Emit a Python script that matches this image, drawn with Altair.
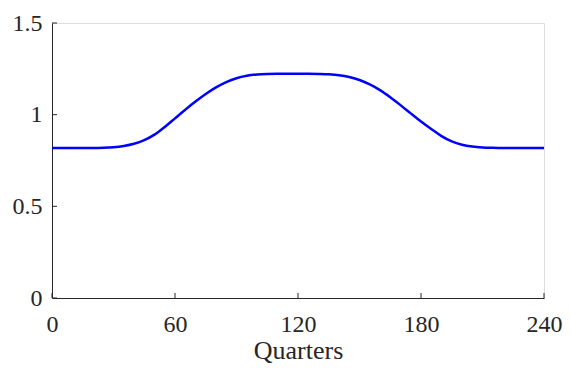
import altair as alt
import pandas as pd

quarters = list(range(0, 241, 5))
values = [0.818, 0.818, 0.818, 0.818, 0.818, 0.819, 0.822, 0.829, 0.841, 0.861,
          0.891, 0.933, 0.980, 1.027, 1.072, 1.113, 1.149, 1.178, 1.199, 1.212,
          1.219, 1.222, 1.223, 1.223, 1.223, 1.223, 1.222, 1.220, 1.215, 1.205,
          1.189, 1.165, 1.134, 1.095, 1.052, 1.007, 0.963, 0.922, 0.883, 0.854,
          0.836, 0.826, 0.821, 0.819, 0.818, 0.818, 0.818, 0.818, 0.818]
x_ticks = [0, 60, 120, 180, 240]
y_ticks = [0, 0.5, 1, 1.5]

FONT = "Liberation Serif"
AX = "#262626"
W, H = 492, 275

df = pd.DataFrame({"quarter": quarters, "value": values})
xt = pd.DataFrame({"quarter": x_ticks})
yt = pd.DataFrame({"value": y_ticks})

xscale = alt.Scale(domain=[0, 240], nice=False, zero=False)
yscale = alt.Scale(domain=[0, 1.5], nice=False)

line = alt.Chart(df).mark_line(color="#0000FF", strokeWidth=2.5, interpolate="monotone").encode(
    x=alt.X("quarter:Q", scale=xscale,
            axis=alt.Axis(values=x_ticks, title="Quarters", grid=False, ticks=False,
                          domainColor=AX, domainWidth=1, labelColor=AX,
                          labelFont=FONT, labelFontSize=24, labelPadding=14,
                          titleFont=FONT, titleFontSize=26, titleFontWeight="normal",
                          titleColor=AX, titlePadding=1, labelFlush=False)),
    y=alt.Y("value:Q", scale=yscale,
            axis=alt.Axis(values=y_ticks, title=None, grid=False, ticks=False, format="~g",
                          domainColor=AX, domainWidth=1, labelColor=AX,
                          labelFont=FONT, labelFontSize=24, labelPadding=10,
                          labelFlush=False)),
)

xticks = alt.Chart(xt).mark_rule(color=AX, strokeWidth=1).encode(
    x=alt.X("quarter:Q", scale=xscale),
    y=alt.value(H), y2=alt.value(H - 5),
)
yticks = alt.Chart(yt).mark_rule(color=AX, strokeWidth=1).encode(
    y=alt.Y("value:Q", scale=yscale),
    x=alt.value(0), x2=alt.value(5),
)

chart = alt.layer(line, xticks, yticks).properties(
    width=W, height=H,
    autosize=alt.AutoSizeParams(type="none"),
    padding={"left": 44, "top": 15, "right": 19, "bottom": 66},
).configure_view(stroke=None).configure(background="white")

chart.save("out.html", embed_options={"renderer": "svg", "actions": False})
